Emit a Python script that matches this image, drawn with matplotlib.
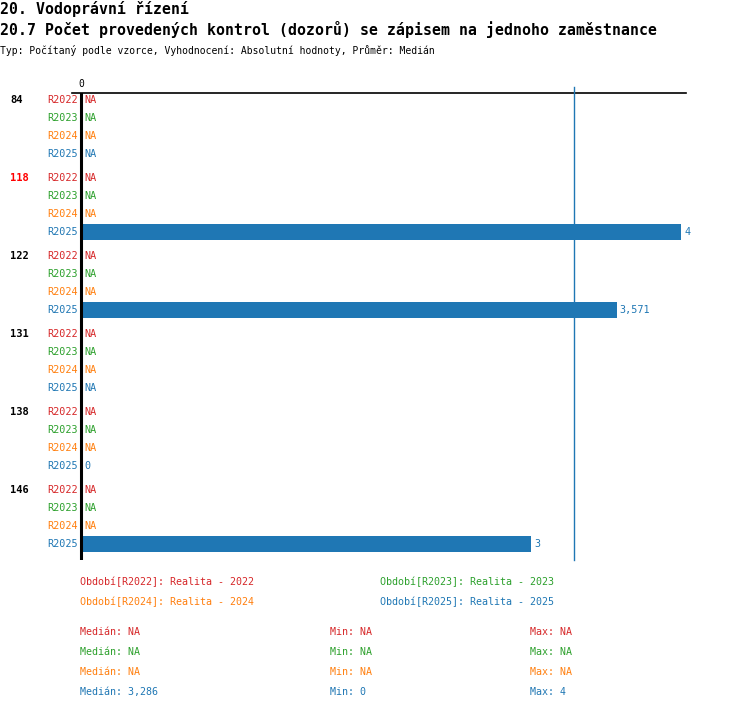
import matplotlib
matplotlib.use("Agg")
import matplotlib.pyplot as plt
import matplotlib.transforms as mtransforms
import numpy as np

plt.rcParams['font.family'] = ['DejaVu Sans Mono', 'DejaVu Sans']

title1 = "20. Vodoprávní řízení"
title2 = "20.7 Počet provedených kontrol (dozorů) se zápisem na jednoho zaměstnance"
subtitle = "Typ: Počítaný podle vzorce, Vyhodnocení: Absolutní hodnoty, Průměr: Medián"

groups = ["84", "118", "122", "131", "138", "146"]
group_colors = ["black", "#ff0000", "black", "black", "black", "black"]
series = ["R2022", "R2023", "R2024", "R2025"]
series_colors = ["#d62728", "#2ca02c", "#ff7f0e", "#1f77b4"]
values_r2022 = [None, None, None, None, None, None]
values_r2023 = [None, None, None, None, None, None]
values_r2024 = [None, None, None, None, None, None]
values_r2025 = [None, 4, 3.571, None, 0, 3]
all_values = [values_r2022, values_r2023, values_r2024, values_r2025]

legend_labels = ["Období[R2022]: Realita - 2022", "Období[R2023]: Realita - 2023",
                 "Období[R2024]: Realita - 2024", "Období[R2025]: Realita - 2025"]
stat_median = ["NA", "NA", "NA", "3,286"]
stat_min = ["NA", "NA", "NA", "0"]
stat_max = ["NA", "NA", "NA", "4"]
median_value = 3.286

def fmt(v):
    s = ("%.3f" % v).rstrip("0").rstrip(".")
    return s.replace(".", ",")

W, H = 750, 710
fig = plt.figure(figsize=(W / 100, H / 100), dpi=100)

def fy(py):
    return 1 - py / H

ax_left, ax_right, ax_top, ax_bot = 72, 686, 93, 560
ax = fig.add_axes([ax_left / W, fy(ax_bot), (ax_right - ax_left) / W, (ax_bot - ax_top) / H])

group_step = 78 / 18.0
ylim_top = -7 / 18.0
ylim_bot = (len(groups) - 1) * group_step + 3 + 16 / 18.0
x_per_px = 4.0 / 600.0
ax.set_xlim(-(81 - ax_left) * x_per_px, (ax_right - 81) * x_per_px)
ax.set_ylim(ylim_bot, ylim_top)

for s in ["right", "bottom", "left"]:
    ax.spines[s].set_visible(False)
ax.spines["top"].set_linewidth(1.2)
ax.set_yticks([])
ax.xaxis.tick_top()
ax.set_xticks([0])
ax.set_xticklabels(["0"])
ax.tick_params(axis="x", length=0, pad=3, labelsize=7)

ax.axvline(0, color="black", lw=2.2, zorder=5)
ax.plot([median_value, median_value], [ylim_top - 6 / 18.0, ylim_bot], color="#1f77b4",
        lw=1, clip_on=False, zorder=4)

blend = mtransforms.blended_transform_factory(fig.transFigure, ax.transData)
for g, gname in enumerate(groups):
    base = g * group_step
    ax.text(10 / W, base, gname, transform=blend, ha="left", va="center",
            fontsize=7.5, fontweight="bold", color=group_colors[g])
    for r, sname in enumerate(series):
        y = base + r
        col = series_colors[r]
        ax.annotate(sname, xy=(0, y), xytext=(-2.2, 0), textcoords="offset points",
                    ha="right", va="center", fontsize=7.3, color=col)
        v = all_values[r][g]
        if v is None:
            ax.annotate("NA", xy=(0, y), xytext=(2.2, 0), textcoords="offset points",
                        ha="left", va="center", fontsize=7.3, color=col)
        else:
            ax.barh(y, v, height=16 / 18.0, color=col, zorder=3)
            ax.annotate(fmt(v), xy=(v, y), xytext=(2.2, 0), textcoords="offset points",
                        ha="left", va="center", fontsize=7.3, color=col)

fig.text(0, fy(9), title1, ha="left", va="center", fontsize=10.7, fontweight="bold")
fig.text(0, fy(30), title2, ha="left", va="center", fontsize=10.7, fontweight="bold")
fig.text(0, fy(50), subtitle, ha="left", va="center", fontsize=7)

leg_pos = [(80, 582), (380, 582), (80, 602), (380, 602)]
for (px, py), lab, col in zip(leg_pos, legend_labels, series_colors):
    fig.text(px / W, fy(py), lab, ha="left", va="center", fontsize=7.2, color=col)

for i, col in enumerate(series_colors):
    py = 632 + 20 * i
    fig.text(80 / W, fy(py), "Medián: " + stat_median[i], ha="left", va="center", fontsize=7.2, color=col)
    fig.text(330 / W, fy(py), "Min: " + stat_min[i], ha="left", va="center", fontsize=7.2, color=col)
    fig.text(530 / W, fy(py), "Max: " + stat_max[i], ha="left", va="center", fontsize=7.2, color=col)

fig.savefig("out.png", dpi=100)
